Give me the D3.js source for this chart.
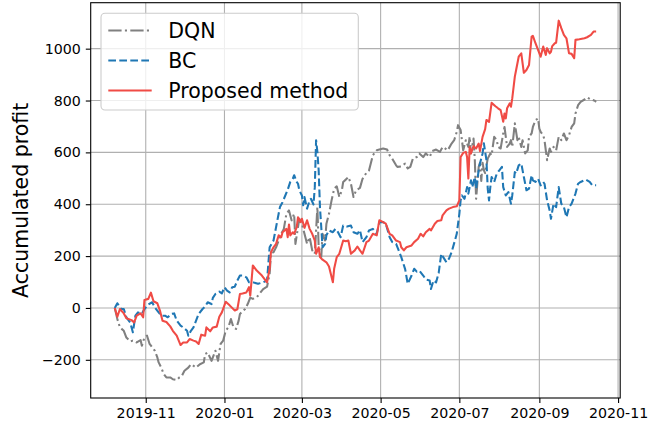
<!DOCTYPE html>
<html><head><meta charset="utf-8">
<script src="https://cdn.jsdelivr.net/npm/d3@7"></script>
<style>
body{margin:0;background:#fff}
svg{display:block}
text{font-family:"DejaVu Sans",sans-serif;fill:#000}
</style>
</head><body>
<svg id="c" width="648" height="428"></svg>
<script>
// ---------- data (days counted from 2019-10-01) ----------
const seriesNames = ["DQN", "BC", "Proposed method"];

const dqnDay = [7,9,11,14,16,19,21,24,27,28,30,32,34,36,38,40,41,43,45,47,50,52,55,57,59,61,64,66,68,70,73,76,77,79,82,83,85,87,89,91,93,95,97,99,101,103,104,108,110,112,114,117,119,122,125,127,128,130,132,134,136,138,140,142,144,146,147,149,150,152,154,156,158,160,162,164,165,167,168,170,171,173,175,177,179,181,183,184,186,188,190,192,194,197,199,202,204,207,210,212,215,218,220,222,225,226,229,232,234,236,238,241,243,246,248,251,253,256,259,261,262,265,268,270,272,273,275,276,277,279,281,282,283,285,286,287,289,290,291,292,293,294,296,298,299,301,303,304,306,308,309,310,311,313,314,315,317,318,319,320,322,323,325,327,328,330,331,333,335,336,337,339,340,341,342,344,345,347,349,351,353,355,357,359,361,363,364,366,368,371,373,376,379,380];
const dqnVal = [0,-43,-75,-88,-114,-129,-126,-133,-124,-146,-114,-107,-139,-152,-165,-191,-210,-230,-255,-268,-268,-275,-278,-268,-262,-242,-230,-217,-223,-230,-217,-210,-178,-172,-204,-191,-165,-204,-139,-126,-88,-75,-43,-75,-81,-49,-23,-4,15,40,35,41,54,73,82,131,209,215,234,260,286,305,363,376,338,363,247,312,344,325,286,247,273,222,209,389,234,196,286,260,325,363,415,460,469,428,454,486,495,505,479,428,454,463,498,521,530,589,608,611,615,611,589,576,550,544,546,557,538,544,576,582,596,582,596,582,605,611,602,621,619,608,634,647,679,705,686,647,608,647,621,660,596,653,570,421,544,560,490,560,531,520,576,596,589,660,647,621,615,673,698,660,621,634,647,621,712,679,647,660,621,647,596,608,660,673,698,724,731,692,679,666,647,608,570,615,602,621,608,660,647,673,647,666,698,712,750,782,795,804,812,804,799,795];

const bcDay = [7,9,12,14,16,19,21,23,25,28,30,33,36,38,41,43,46,48,51,53,55,58,60,63,64,66,68,70,72,75,77,79,82,83,85,88,90,92,94,96,98,100,102,104,106,109,111,114,118,122,125,127,130,133,135,137,141,143,145,146,148,149,150,152,153,154,156,158,159,161,162,163,164,165,166,167,168,170,171,173,176,178,180,182,184,187,190,192,195,197,199,202,204,207,210,212,215,217,220,222,225,227,229,232,234,237,239,241,243,246,248,251,252,254,256,258,260,262,264,266,268,270,272,274,275,276,278,280,281,283,284,286,287,289,290,292,293,295,296,297,298,299,301,303,305,307,308,310,312,314,315,317,318,320,322,324,326,328,330,331,333,335,337,339,340,342,344,345,347,349,351,353,355,357,359,361,364,366,368,372,375,377,380];
const bcVal = [0,18,-4,-4,-36,-56,-94,-30,-17,-23,-4,13,22,2,-17,-30,-30,-36,-23,-21,-49,-68,-75,-88,-107,-88,-75,-49,-23,-4,5,22,15,39,54,63,56,80,67,60,80,82,106,125,125,118,99,99,93,99,106,234,260,338,389,408,456,486,499,512,486,479,454,434,396,428,383,415,421,399,466,647,602,531,389,312,234,247,280,299,292,305,292,273,318,314,318,292,286,300,254,273,299,305,286,331,331,325,273,254,247,222,196,150,93,125,151,140,144,125,110,106,73,106,99,135,209,192,176,190,215,250,286,363,415,434,421,466,441,492,466,505,460,531,557,596,635,570,460,415,466,505,486,518,531,544,466,434,447,402,434,524,518,550,557,505,454,460,512,492,486,499,473,486,479,415,376,344,402,389,466,402,389,350,389,402,441,479,486,495,486,473,473];

const propDay = [7,9,11,14,16,20,22,24,27,29,30,33,35,37,40,42,44,47,50,52,55,58,60,63,65,68,70,72,74,77,78,81,83,86,88,90,93,96,100,102,104,106,109,111,112,114,117,121,125,127,128,130,132,134,136,137,140,141,142,143,145,146,148,149,151,152,154,156,158,160,162,163,165,166,168,171,173,176,177,179,181,184,186,188,190,193,195,197,199,202,204,207,210,212,215,217,220,222,225,228,229,231,233,237,239,242,244,246,248,251,252,255,257,260,261,264,266,269,272,274,275,277,279,280,281,282,283,285,287,289,290,292,294,295,297,299,302,304,306,308,309,310,311,313,314,315,317,318,320,322,323,324,326,328,330,331,333,335,337,339,341,342,344,345,346,348,349,351,353,355,357,359,361,363,364,367,371,373,376,378,380];
const propVal = [0,-34,-4,-21,-40,-47,-56,-30,-21,-36,31,35,59,26,18,-10,-49,-54,-71,-88,-107,-143,-133,-133,-120,-126,-129,-139,-103,-107,-75,-90,-75,-72,-34,-17,24,10,-10,-5,54,56,60,80,48,164,144,125,99,151,215,234,247,280,273,292,305,273,322,280,292,286,312,350,331,344,309,338,305,286,260,209,234,196,186,176,160,99,151,196,209,260,257,260,209,222,237,222,209,254,260,286,280,338,331,325,286,280,260,254,234,222,234,241,254,267,286,276,292,305,299,325,335,338,357,376,383,389,392,415,582,598,602,582,499,621,596,624,615,634,605,660,690,725,718,791,778,770,763,718,750,731,770,789,776,808,892,918,969,982,944,907,918,937,1046,1049,1021,995,969,1008,976,1002,982,988,1010,1021,1023,1108,1079,1053,1040,982,980,963,1034,1036,1040,1044,1053,1066,1066];

const xTickLabels = ["2019-11","2020-01","2020-03","2020-05","2020-07","2020-09","2020-11"];
const yTicks = [-200, 0, 200, 400, 600, 800, 1000];
const yLabel = "Accumulated profit";

// ---------- build ----------
const base = Date.UTC(2019, 9, 1);
const toDate = d => new Date(base + d * 864e5);
const mk = (days, vals) => days.map((d, i) => ({date: toDate(d), v: vals[i]}));
const series = [
  {name: seriesNames[0], data: mk(dqnDay, dqnVal), color: "#808080", dash: "13.3,3.3,2.1,3.3"},
  {name: seriesNames[1], data: mk(bcDay, bcVal), color: "#1f77b4", dash: "7.7,3.3"},
  {name: seriesNames[2], data: mk(propDay, propVal), color: "#f04b45", dash: null}
];

const L = 90.7, R = 620.2, T = 2.7, B = 398;
const all = series.flatMap(s => s.data);
const tExt = d3.extent(all, d => +d.date);
const tPad = (tExt[1] - tExt[0]) * 0.05;
const vExt = d3.extent(all, d => d.v);
const vPad = (vExt[1] - vExt[0]) * 0.05;

const x = d3.scaleUtc().domain([new Date(tExt[0] - tPad), new Date(tExt[1] + tPad)]).range([L, R]);
const y = d3.scaleLinear().domain([vExt[0] - vPad, vExt[1] + vPad]).range([B, T]);

const parseM = d3.utcParse("%Y-%m");
const xTicks = xTickLabels.map(parseM);

const svg = d3.select("#c");

// grid
const grid = svg.append("g").attr("stroke", "#b0b0b0").attr("stroke-width", 1.1);
grid.selectAll("line.gx").data(xTicks).join("line")
  .attr("x1", d => x(d)).attr("x2", d => x(d)).attr("y1", T).attr("y2", B);
grid.selectAll("line.gy").data(yTicks).join("line")
  .attr("y1", d => y(d)).attr("y2", d => y(d)).attr("x1", L).attr("x2", R);

// lines
const line = d3.line().x(d => x(d.date)).y(d => y(d.v));
const clip = svg.append("clipPath").attr("id", "pc").append("rect")
  .attr("x", L).attr("y", T).attr("width", R - L).attr("height", B - T);
const lg = svg.append("g").attr("clip-path", "url(#pc)");
series.forEach(s => {
  lg.append("path").datum(s.data)
    .attr("d", line).attr("fill", "none")
    .attr("stroke", s.color).attr("stroke-width", 2.08)
    .attr("stroke-linejoin", "round")
    .attr("stroke-dasharray", s.dash);
});

// axes
const xa = svg.append("g").attr("transform", `translate(0,${B})`)
  .call(d3.axisBottom(x).tickValues(xTicks).tickFormat(d3.utcFormat("%Y-%m")).tickSize(4.9).tickPadding(4.9).tickSizeOuter(0));
const ya = svg.append("g").attr("transform", `translate(${L},0)`)
  .call(d3.axisLeft(y).tickValues(yTicks).tickFormat(d3.format("d")).tickSize(4.9).tickPadding(4.9).tickSizeOuter(0));
[xa, ya].forEach(a => {
  a.select(".domain").remove();
  a.selectAll(".tick line").attr("stroke", "#000").attr("stroke-width", 1.1);
  a.selectAll(".tick text").attr("font-size", "14.2px").attr("font-family", "DejaVu Sans").attr("fill", "#000");
});

// spines
svg.append("rect").attr("x", L).attr("y", T).attr("width", R - L).attr("height", B - T)
  .attr("fill", "none").attr("stroke", "#000").attr("stroke-width", 1.1);

// y label
svg.append("text").attr("transform", `translate(27.5,${(T + B) / 2}) rotate(-90)`)
  .attr("text-anchor", "middle").attr("font-size", "20.5px").text(yLabel);

// legend
const leg = svg.append("g");
leg.append("rect").attr("x", 101).attr("y", 13.3).attr("width", 257.3).attr("height", 96.7)
  .attr("rx", 4).attr("fill", "#fff").attr("fill-opacity", 0.8)
  .attr("stroke", "#cccccc").attr("stroke-width", 1.1);
series.forEach((s, i) => {
  const cy = 30.5 + i * 30;
  leg.append("line").attr("x1", 108.3).attr("x2", 151.7).attr("y1", cy).attr("y2", cy)
    .attr("stroke", s.color).attr("stroke-width", 2.08).attr("stroke-dasharray", s.dash);
  leg.append("text").attr("x", 168.3).attr("y", cy + 7.4).attr("font-size", "20.5px").text(s.name);
});
</script>
</body></html>
